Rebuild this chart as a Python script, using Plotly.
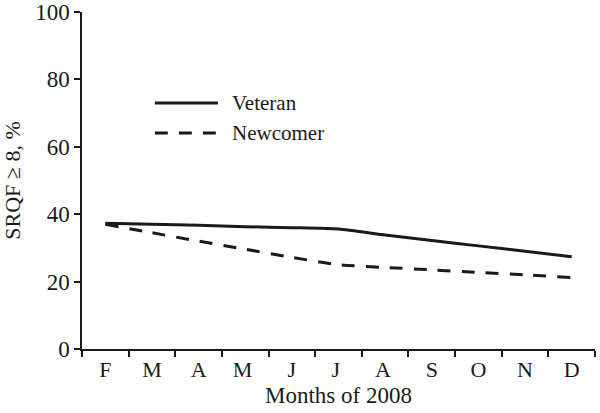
import plotly.graph_objects as go

months = ["F", "M", "A", "M ", "J", "J ", "A ", "S", "O", "N", "D"]
veteran = [37.3, 37.0, 36.7, 36.3, 36.0, 35.6, 33.8, 32.2, 30.6, 29.0, 27.4]
newcomer = [37.0, 34.5, 32.0, 29.6, 27.2, 25.0, 24.2, 23.5, 22.7, 22.0, 21.2]
series_names = ["Veteran", "Newcomer"]

font_family = "Liberation Serif"
ink = "#1a1a1a"
dash = "13px,11px"

fig = go.Figure()
fig.add_trace(go.Scatter(x=months, y=veteran, name=series_names[0], mode="lines",
                         line=dict(color=ink, width=3, shape="spline", smoothing=0.5)))
fig.add_trace(go.Scatter(x=months, y=newcomer, name=series_names[1], mode="lines",
                         line=dict(color=ink, width=3, dash=dash, shape="spline", smoothing=0.5)))

# manual legend (longer line samples, like the original)
legend_rows = [(0.730, "solid"), (0.641, dash)]
for (yy, d), name in zip(legend_rows, series_names):
    fig.add_shape(type="line", xref="paper", yref="paper", x0=0.142, x1=0.265, y0=yy, y1=yy,
                  line=dict(color=ink, width=3, dash=d))
    fig.add_annotation(xref="paper", yref="paper", x=0.288, y=yy, text=name, showarrow=False,
                       xanchor="left", yanchor="middle", font=dict(size=21, color=ink))

fig.update_layout(
    width=600, height=413,
    margin=dict(l=82, r=5, t=12, b=64),
    paper_bgcolor="white", plot_bgcolor="white",
    font=dict(family=font_family, size=22, color=ink),
    showlegend=False,
)
fig.update_xaxes(
    type="category", range=[-0.5, 10.5], automargin=False,
    showline=True, linecolor=ink, linewidth=1.5,
    ticks="outside", tickson="boundaries", ticklen=6, tickcolor=ink, tickwidth=1.5,
    showgrid=False, zeroline=False,
    tickfont=dict(size=22),
    title=dict(text="Months of 2008", font=dict(size=23), standoff=6),
)
fig.update_yaxes(
    range=[0, 100], tickvals=[0, 20, 40, 60, 80, 100], automargin=False,
    showline=True, linecolor=ink, linewidth=1.5,
    ticks="outside", ticklen=6, tickcolor=ink, tickwidth=1.5,
    showgrid=False, zeroline=False,
    tickfont=dict(size=23),
    title=dict(text="SRQF ≥ 8, %", font=dict(size=22), standoff=10),
)

fig.write_html("out.html", config={"displayModeBar": False},
               post_script="document.body.style.margin='0';document.body.style.overflow='hidden';")
